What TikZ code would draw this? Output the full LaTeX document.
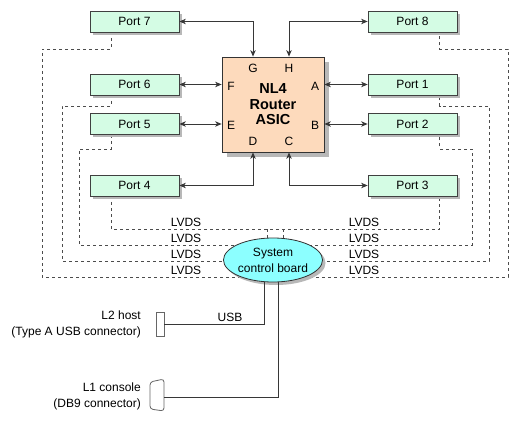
\documentclass[tikz,border=0pt]{standalone}
\usepackage{fontspec}
\setmainfont{Liberation Sans}
\usetikzlibrary{arrows.meta,shadows,shapes.geometric}
\definecolor{portfill}{RGB}{212,252,228}
\definecolor{asicfill}{RGB}{253,218,188}
\definecolor{sysfill}{RGB}{140,255,255}
\definecolor{linegray}{RGB}{55,55,55}
\begin{document}
\begin{tikzpicture}[x=1pt,y=-1pt,
  shadowed/.style={drop shadow={shadow xshift=3pt,shadow yshift=-3pt,fill=black!28,opacity=1}},
  txt/.style={inner sep=0pt,font=\fontsize{12}{16}\selectfont},
  port/.style={txt,draw=black!75,line width=0.8pt,fill=portfill,minimum width=89pt,minimum height=21pt,shadowed},
  asicbox/.style={draw=black!80,line width=0.8pt,fill=asicfill,minimum width=102pt,minimum height=95pt,inner sep=0pt,
    drop shadow={shadow xshift=5pt,shadow yshift=-5pt,fill=black!28,opacity=1},
    align=center,font=\fontsize{14.5}{15.5}\selectfont\bfseries},
  sysbox/.style={ellipse,draw=black!80,line width=0.8pt,fill=sysfill,minimum width=89pt,minimum height=44pt,inner sep=0pt,
    align=center,txt,shadowed},
  biarrow/.style={draw=linegray,line width=0.8pt,{Stealth[length=6.5pt,width=5.5pt,inset=2pt]}-{Stealth[length=6.5pt,width=5.5pt,inset=2pt]}},
  lvds/.style={draw=black!70,line width=0.7pt,dash pattern=on 3pt off 3pt},
  wire/.style={draw=linegray,line width=0.8pt},
  conn/.style={draw=black!60,line width=0.8pt,fill=white}
]
\fill[white] (0,0) rectangle (519,422);
\useasboundingbox (0,0) rectangle (519,422);

% dashed LVDS links
\draw[lvds] (111,32) |- (42,49) |- (508,277) -- (508,49) -| (439.5,32);
\draw[lvds] (111,95) |- (62,106) |- (489,261) -- (489,106) -| (439.5,95);
\draw[lvds] (111,135) |- (79,149) |- (472,245) -- (472,149) -| (439.5,135);
\draw[lvds] (111,196) |- (273,229) -| (439.5,196);
\draw[lvds] (267,229) -- (267,245);
\draw[lvds] (283,229) -- (283,245);

% ports
\node[port] (p7) at (134.5,21.5) {Port 7};
\node[port] (p6) at (134.5,84.5) {Port 6};
\node[port] (p5) at (134.5,124) {Port 5};
\node[port] (p4) at (134.5,185.5) {Port 4};
\node[port] (p8) at (412.5,21.5) {Port 8};
\node[port] (p1) at (412.5,84.5) {Port 1};
\node[port] (p2) at (412.5,124) {Port 2};
\node[port] (p3) at (412.5,185.5) {Port 3};

% ASIC
\node[asicbox] (asic) at (273,104.5) {NL4\\Router\\ASIC};
\node[txt] (pg) at (253,68) {G};
\node[txt] (ph) at (289,68) {H};
\node[txt] (pf) at (231,86) {F};
\node[txt] (pe) at (231,125) {E};
\node[txt] (pa) at (315,86) {A};
\node[txt] (pb) at (315,125) {B};
\node[txt] (pd) at (253,141) {D};
\node[txt] (pc) at (289,141) {C};

% ASIC links
\draw[biarrow] (p7.east) -| ([xshift=-20pt]asic.north);
\draw[biarrow] (p8.west) -| ([xshift=16pt]asic.north);
\draw[biarrow] (p6.east) -- (p6.east -| asic.west);
\draw[biarrow] (p5.east) -- (p5.east -| asic.west);
\draw[biarrow] (p1.west) -- (p1.west -| asic.east);
\draw[biarrow] (p2.west) -- (p2.west -| asic.east);
\draw[biarrow] (p4.east) -| ([xshift=-20pt]asic.south);
\draw[biarrow] (p3.west) -| ([xshift=16pt]asic.south);

% LVDS labels
\node[txt] (lvl1) at (186,222.5) {LVDS};
\node[txt] (lvl2) at (186,238.5) {LVDS};
\node[txt] (lvl3) at (186,254) {LVDS};
\node[txt] (lvl4) at (186,270.5) {LVDS};
\node[txt] (lvr1) at (364,222.5) {LVDS};
\node[txt] (lvr2) at (364,238.5) {LVDS};
\node[txt] (lvr3) at (364,254) {LVDS};
\node[txt] (lvr4) at (364,270.5) {LVDS};

% system control board
\node[sysbox] (sys) at (273,260) {System\\control board};

% connectors
\node[conn,minimum width=8pt,minimum height=24pt,inner sep=0pt] (l2) at (160,324) {};
\draw[conn,rounded corners=3pt] (164,379) -- (164,411) -- (150,409) -- (150,382) -- cycle;
\coordinate (l1) at (164,397);
\draw[wire] ([xshift=-9pt]sys.south) |- (l2.east);
\draw[wire] ([xshift=5pt]sys.south) |- (l1);
\node[txt] (usb) at (230,317) {USB};
\node[txt,anchor=east,align=right] (l2t) at (141,324) {L2 host\\(Type A USB connector)};
\node[txt,anchor=east,align=right] (l1t) at (141,396) {L1 console\\(DB9 connector)};
\end{tikzpicture}
\end{document}
